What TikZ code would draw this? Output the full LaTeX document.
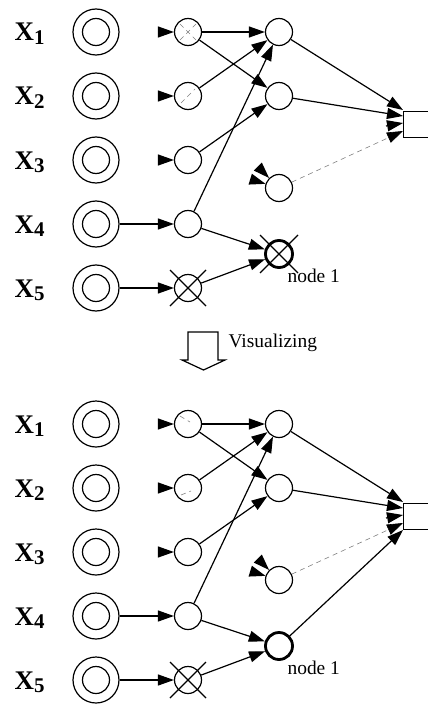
\documentclass[tikz,border=0pt]{standalone}
\usepackage{fontspec}
\setmainfont{Liberation Serif}
\usetikzlibrary{arrows.meta}

\newcommand{\xlab}[1]{\fontsize{27}{30}\selectfont\bfseries
    X\raisebox{-3.5bp}{\fontsize{21}{24}\selectfont #1}}

\begin{document}
\begin{tikzpicture}[x=1bp, y=-1bp, line width=1.2bp,
        unit/.style={circle, draw, minimum size=27bp, inner sep=0pt},
        ring/.style={circle, draw, minimum size=46bp, inner sep=0pt},
        tip/.style={-{Triangle[length=16bp, width=11bp]}},
        faded/.style={gray, line width=0.6bp, dash pattern=on 5bp off 4bp},
        cross/.style={line width=1.3bp},
        lbl/.style={font=\fontsize{19.5}{22}\selectfont, inner sep=0pt}]
    \useasboundingbox (0,0) rectangle (427,704);

    \foreach \p/\dy in {t/0, b/392} {
        \begin{scope} % Inputs and first hidden layer
            \foreach \i in {1,...,5} {
                \pgfmathsetmacro\y{\dy+32+64*(\i-1)}
                \node[anchor=base west, inner sep=0pt] (lab\i\p)
                    at (14,\y+9) {\xlab{\i}};
                \node[ring] (x\i\p) at (96,\y) {};
                \draw (x\i\p) circle (13.5);
                \node[unit] (h\i\p) at (188,\y) {};
            }
        \end{scope}
        \begin{scope} % Second hidden layer and output
            \node[unit] (ga\p) at (279,\dy+32) {};
            \node[unit] (gb\p) at (279,\dy+96) {};
            \node[unit] (gc\p) at (279,\dy+188) {};
            \node[unit, line width=2.8bp] (n1\p) at (279,\dy+254) {};
            \node[lbl, anchor=base west] (nl\p) at (287,\dy+282.5) {node 1};
            \node[draw, anchor=north west, minimum width=40bp,
                minimum height=26bp] (out\p) at (403,\dy+111) {};
            \coordinate (o1\p) at (403,\dy+110);
            \coordinate (o2\p) at (403,\dy+116);
            \coordinate (o3\p) at (403,\dy+123);
            \coordinate (o4\p) at (403,\dy+131);
            \coordinate (o5\p) at (403,\dy+138);
            \coordinate (c3\p) at (386,\dy+126);
        \end{scope}
        \begin{scope} % Connections
            \draw[tip] (x4\p) -- (h4\p);
            \draw[tip] (x5\p) -- (h5\p);
            \foreach \i in {1,2,3}
                \draw[tip, shorten <=39bp] (x\i\p) -- (h\i\p);
            \draw[tip] (h1\p) -- (ga\p);
            \draw[tip] (h1\p) -- (gb\p);
            \draw[tip] (h2\p) -- (ga\p);
            \draw[tip] (h3\p) -- (gb\p);
            \draw[tip] (h4\p) -- (ga\p);
            \draw[tip] (h4\p) -- (n1\p);
            \draw[tip] (h5\p) -- (n1\p);
            \draw[tip, shorten <=86bp] (h2\p) -- (gc\p);
            \draw[tip, shorten <=52bp] (h3\p) -- (gc\p);
            \draw[tip] (ga\p) -- (o1\p);
            \draw[tip] (gb\p) -- (o2\p);
            \draw[tip] (c3\p) -- (o3\p);
            \draw[faded, -{Triangle[length=16bp, width=11bp, black]}]
                (gc\p) -- (o4\p);
        \end{scope}
        % pruned unit
        \draw[cross] ([shift={(-18,-18)}]h5\p.center) -- ([shift={(18,18)}]h5\p.center);
        \draw[cross] ([shift={(-18,18)}]h5\p.center) -- ([shift={(18,-18)}]h5\p.center);
    }

    \begin{scope} % Before: node 1 pruned too
        \draw[cross] ([shift={(-19,-19)}]n1t.center) -- ([shift={(19,19)}]n1t.center);
        \draw[cross] ([shift={(-19,19)}]n1t.center) -- ([shift={(19,-19)}]n1t.center);
        \draw[faded] ([shift={(-8,-8)}]h1t.center) -- ([shift={(8,8)}]h1t.center);
        \draw[faded] ([shift={(-8,8)}]h1t.center) -- ([shift={(8,-8)}]h1t.center);
        \draw[faded] ([shift={(-7,7)}]h2t.center) -- ([shift={(7,-7)}]h2t.center);
    \end{scope}
    \begin{scope} % After: node 1 restored
        \draw[tip] (n1b) -- (o5b);
        \draw[faded] ([shift={(-8,-8)}]h1b.center) -- ([shift={(2,-2)}]h1b.center);
        \draw[faded] ([shift={(-7,7)}]h2b.center) -- ([shift={(3,3)}]h2b.center);
    \end{scope}

    % the step between the two nets
    \draw (188,332) -- (218,332) -- (218,360) -- (225,360) -- (203.5,370)
        -- (182,360) -- (188,360) -- cycle;
    \node[lbl, anchor=base west] (vis) at (228,347) {Visualizing};
\end{tikzpicture}
\end{document}
